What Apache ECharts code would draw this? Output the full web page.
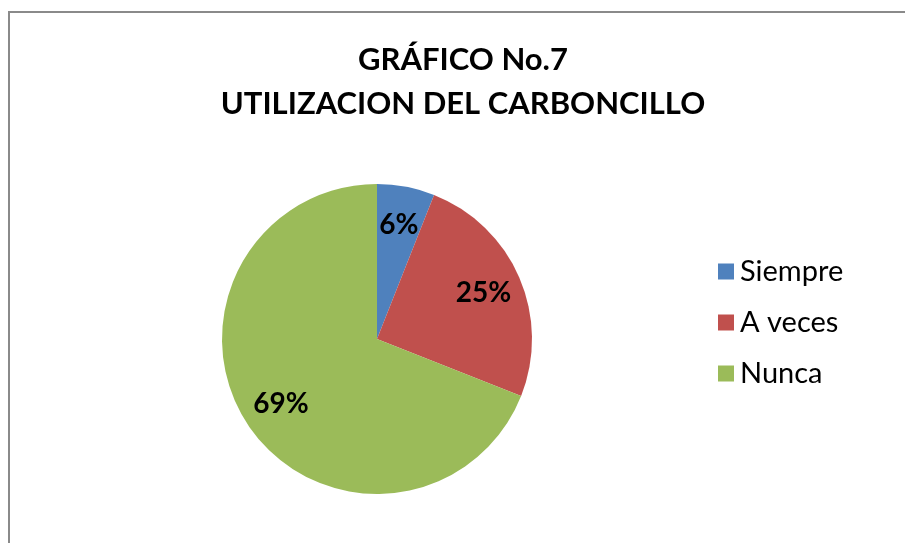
<!DOCTYPE html>
<html>
<head>
<meta charset="utf-8">
<script src="https://cdn.jsdelivr.net/npm/echarts@6/dist/echarts.min.js"></script>
<style>
  html, body { margin: 0; padding: 0; background: #fff; }
  #chart_container { width: 905px; height: 543px; }
</style>
</head>
<body>
<div id="chart_container"></div>
<script>
"use strict";

// data
const categories = ['Siempre', 'A veces', 'Nunca'];
const values = [6, 25, 69];
const colors = ['#4F81BD', '#C0504D', '#9BBB59'];
const titleLines = ['GRÁFICO No.7', 'UTILIZACION DEL CARBONCILLO'];

const FONT = 'Lato, "Open Sans", sans-serif';

let pieData = categories.map((name, i) => ({
    name: name,
    value: values[i],
    itemStyle: { color: colors[i] }
}));

// label ring: same slices, drawn transparent, so labels sit further out like Excel
let labelData = categories.map((name, i) => ({
    name: name,
    value: values[i],
    itemStyle: { color: 'rgba(0,0,0,0)' }
}));

let optEchart = {
    backgroundColor: '#ffffff',
    animation: false,
    title: {
        text: titleLines.join('\n'),
        left: 463,
        textAlign: 'center',
        top: 38,
        padding: 0,
        textStyle: {
            fontFamily: FONT,
            fontSize: 31,
            fontWeight: 'bold',
            color: '#000',
            lineHeight: 44
        }
    },
    legend: {
        orient: 'vertical',
        left: 713,
        top: 252,
        itemWidth: 16,
        itemHeight: 16,
        itemGap: 22,
        icon: 'rect',
        data: categories,
        selectedMode: false,
        textStyle: {
            fontFamily: FONT,
            fontSize: 29,
            color: '#000',
            lineHeight: 29,
            padding: [0, 0, 0, 1]
        }
    },
    graphic: [{
        type: 'rect',
        shape: { x: 9, y: 12, width: 1000, height: 1000 },
        style: { fill: 'none', stroke: '#8a8a8a', lineWidth: 2 },
        silent: true
    }],
    series: [
        {
            type: 'pie',
            center: [377, 339],
            radius: 155,
            startAngle: 90,
            clockwise: true,
            silent: true,
            label: { show: false },
            labelLine: { show: false },
            data: pieData
        },
        {
            type: 'pie',
            center: [377, 339],
            radius: [71, 155],
            startAngle: 90,
            clockwise: true,
            silent: true,
            legendHoverLink: false,
            label: {
                show: true,
                position: 'inside',
                formatter: '{c}%',
                fontFamily: FONT,
                fontSize: 28,
                fontWeight: 'bold',
                color: '#000'
            },
            labelLine: { show: false },
            data: labelData
        }
    ]
};

let pageLoaded = () => {
    let chartDom = document.getElementById('chart_container');
    let myChart = echarts.init(chartDom, null, { renderer: 'canvas' });
    myChart.setOption(optEchart);
};

window.addEventListener('load', pageLoaded, false);
</script>
</body>
</html>
